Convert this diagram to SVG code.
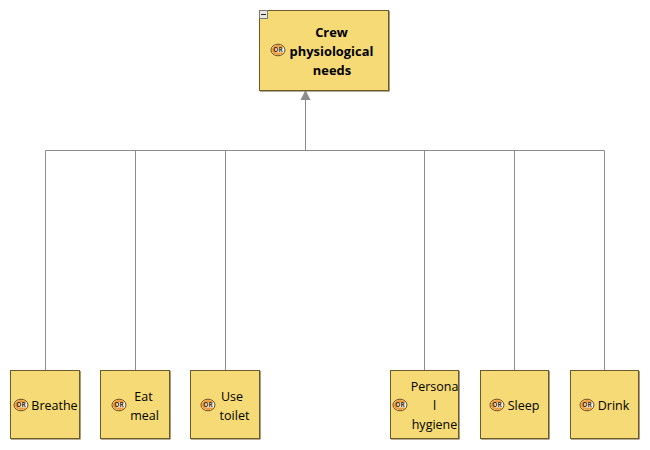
<svg xmlns="http://www.w3.org/2000/svg" width="650" height="450" viewBox="0 0 650 450">
<style>
text{font-family:"Open Sans","Noto Sans","Liberation Sans",sans-serif;fill:#000}
.l{font-size:12.500px;text-anchor:middle}
.b{font-size:12.900px;font-weight:700;text-anchor:middle}
.box{fill:#f5da75;stroke:#6b5a2c;stroke-width:1}
.sh{fill:none;stroke:#6b5a2c;stroke-width:1.2}
.c{fill:none;stroke:#8c8c8c;stroke-width:1}
.or{font-size:6.500px;font-weight:700;text-anchor:middle;fill:#4a3312}
</style>
<defs>
<g id="orIcon">
<ellipse cx="0" cy="0" rx="7" ry="5.800" fill="#f6f1e4" stroke="#6d4a1c" stroke-width="1"/>
<path d="M-6.200 0a6.200 5 0 0 1 6.200-5c3 0 4.500 1 5.500 2.500h-8v5h8c-1 1.500-2.500 2.500-5.500 2.500a6.200 5 0 0 1-6.200-5Z" fill="#ef9a32"/>
<text class="or" x="0" y="2.300">OR</text>
</g>
</defs>
<g id="connectors">
<path class="c" d="M305.500 150.500V99"/>
<path d="M305.500 90L310.500 100H300.500Z" fill="#8c8c8c"/>
<path class="c" d="M45.500 370V150.500H604.500V370M135.500 150.500V370M225.500 150.500V370M424.500 150.500V370M514.500 150.500V370"/>
</g>
<g id="node-crew">
<rect class="box" x="259.500" y="10.500" width="129" height="80"/>
<path class="sh" d="M389 11V91H260"/>
<rect x="259.500" y="10.500" width="8" height="8" fill="#e8e8e0" stroke="#777"/>
<path d="M261 14.500H266" stroke="#222" stroke-width="1"/>
<use href="#orIcon" x="278" y="50"/>
<text class="b" x="331.500" y="37">Crew</text>
<text class="b" x="331.500" y="56">physiological</text>
<text class="b" x="332" y="75">needs</text>
</g>
<g id="node-breathe">
<rect class="box" x="10.500" y="370.500" width="69" height="68"/>
<path class="sh" d="M80 371V439H11"/>
<use href="#orIcon" x="21" y="405"/>
<text class="l" x="54.500" y="410">Breathe</text>
</g>
<g id="node-eat">
<rect class="box" x="100.500" y="370.500" width="69" height="68"/>
<path class="sh" d="M170 371V439H101"/>
<use href="#orIcon" x="119" y="405"/>
<text class="l" x="143.500" y="401">Eat</text>
<text class="l" x="144.500" y="420">meal</text>
</g>
<g id="node-toilet">
<rect class="box" x="190.500" y="370.500" width="69" height="68"/>
<path class="sh" d="M260 371V439H191"/>
<use href="#orIcon" x="208" y="405"/>
<text class="l" x="232" y="401">Use</text>
<text class="l" x="234.500" y="420">toilet</text>
</g>
<g id="node-hygiene">
<rect class="box" x="390.500" y="370.500" width="68" height="68"/>
<path class="sh" d="M459 371V439H391"/>
<use href="#orIcon" x="400" y="405"/>
<text class="l" x="434.500" y="391">Persona</text>
<text class="l" x="434.500" y="410">l</text>
<text class="l" x="434.500" y="429">hygiene</text>
</g>
<g id="node-sleep">
<rect class="box" x="480.500" y="370.500" width="68" height="68"/>
<path class="sh" d="M549 371V439H481"/>
<use href="#orIcon" x="497" y="405"/>
<text class="l" x="523.500" y="410">Sleep</text>
</g>
<g id="node-drink">
<rect class="box" x="570.500" y="370.500" width="68" height="68"/>
<path class="sh" d="M639 371V439H571"/>
<use href="#orIcon" x="587" y="405"/>
<text class="l" x="613.500" y="410">Drink</text>
</g>
</svg>
